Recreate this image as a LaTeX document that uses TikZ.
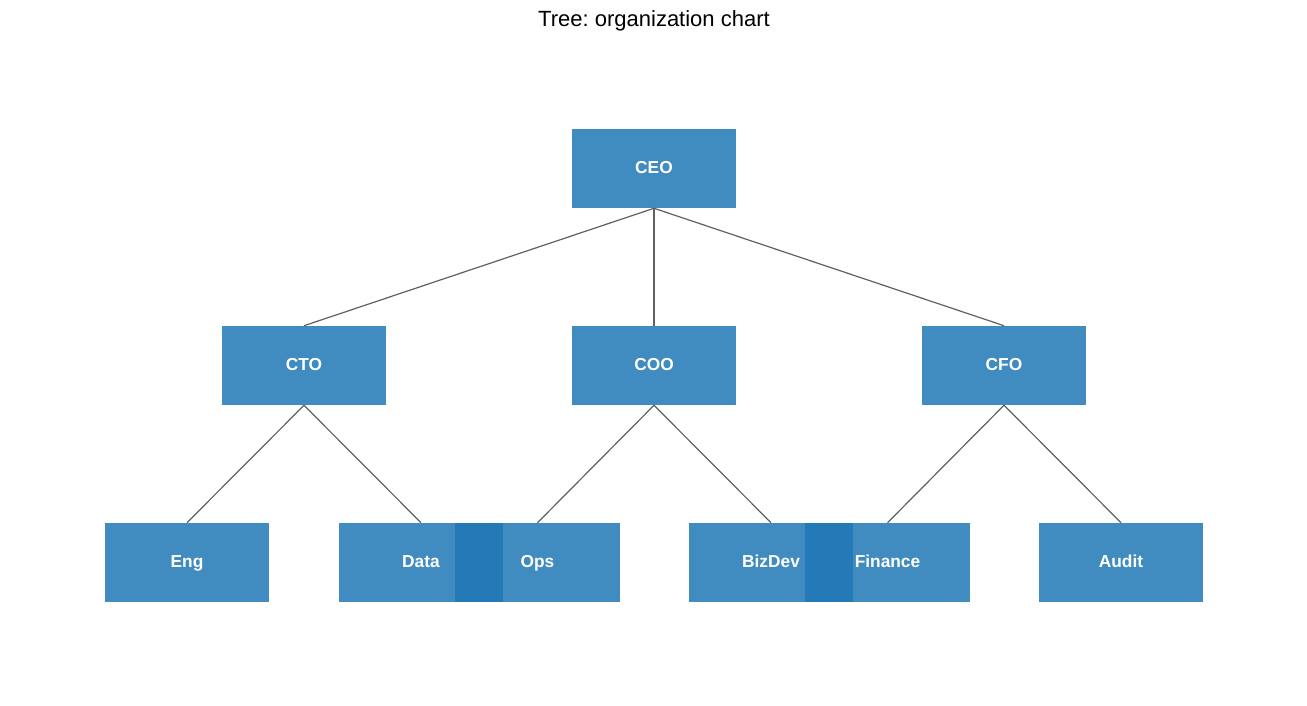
\documentclass[tikz,border=0pt]{standalone}
\usepackage{fontspec}
\setmainfont{Liberation Sans}
\definecolor{boxblue}{HTML}{1F77B4}
\definecolor{edgegray}{HTML}{606060}
\frenchspacing
\begin{document}
\begin{tikzpicture}[x=0.75pt,y=-0.75pt,
  orgbox/.style={rectangle, minimum width=164*0.75pt, minimum height=79*0.75pt, inner sep=0pt},
  lbl/.style={text=white, inner sep=0pt, text height=9pt, text depth=0pt, font=\bfseries\fontsize{13}{15}\selectfont},
  edge/.style={draw=edgegray, line width=0.9pt}]
\useasboundingbox (0,0) rectangle (1307,706);
\node at (654,21) {\fontsize{16.5}{19}\selectfont Tree: organization chart};
\node[orgbox] (ceo) at (654,168.5) {};
\node[orgbox] (cto) at (304,365.5) {};
\node[orgbox] (coo) at (654,365.5) {};
\node[orgbox] (cfo) at (1004,365.5) {};
\node[orgbox] (eng) at (187,562.5) {};
\node[orgbox] (data) at (421,562.5) {};
\node[orgbox] (ops) at (537.5,562.5) {};
\node[orgbox] (biz) at (771,562.5) {};
\node[orgbox] (fin) at (887.5,562.5) {};
\node[orgbox] (aud) at (1121,562.5) {};
\foreach \p/\c in {ceo/cto,ceo/coo,ceo/cfo,cto/eng,cto/data,coo/ops,coo/biz,cfo/fin,cfo/aud}
  \draw[edge] (\p.south) -- (\c.north);
\foreach \n in {ceo,cto,coo,cfo,eng,data,ops,biz,fin,aud}
  \fill[boxblue, fill opacity=0.85] (\n.south west) rectangle (\n.north east);
\node[lbl] at ([yshift=0.75pt]ceo) {CEO};
\node[lbl] at ([yshift=0.75pt]cto) {CTO};
\node[lbl] at ([yshift=0.75pt]coo) {COO};
\node[lbl] at ([yshift=0.75pt]cfo) {CFO};
\node[lbl] at ([yshift=0.75pt]eng) {Eng};
\node[lbl] at ([yshift=0.75pt]data) {Data};
\node[lbl] at ([yshift=0.75pt]ops) {Ops};
\node[lbl] at ([yshift=0.75pt]biz) {BizDev};
\node[lbl] at ([yshift=0.75pt]fin) {Finance};
\node[lbl] at ([yshift=0.75pt]aud) {Audit};
\end{tikzpicture}
\end{document}
